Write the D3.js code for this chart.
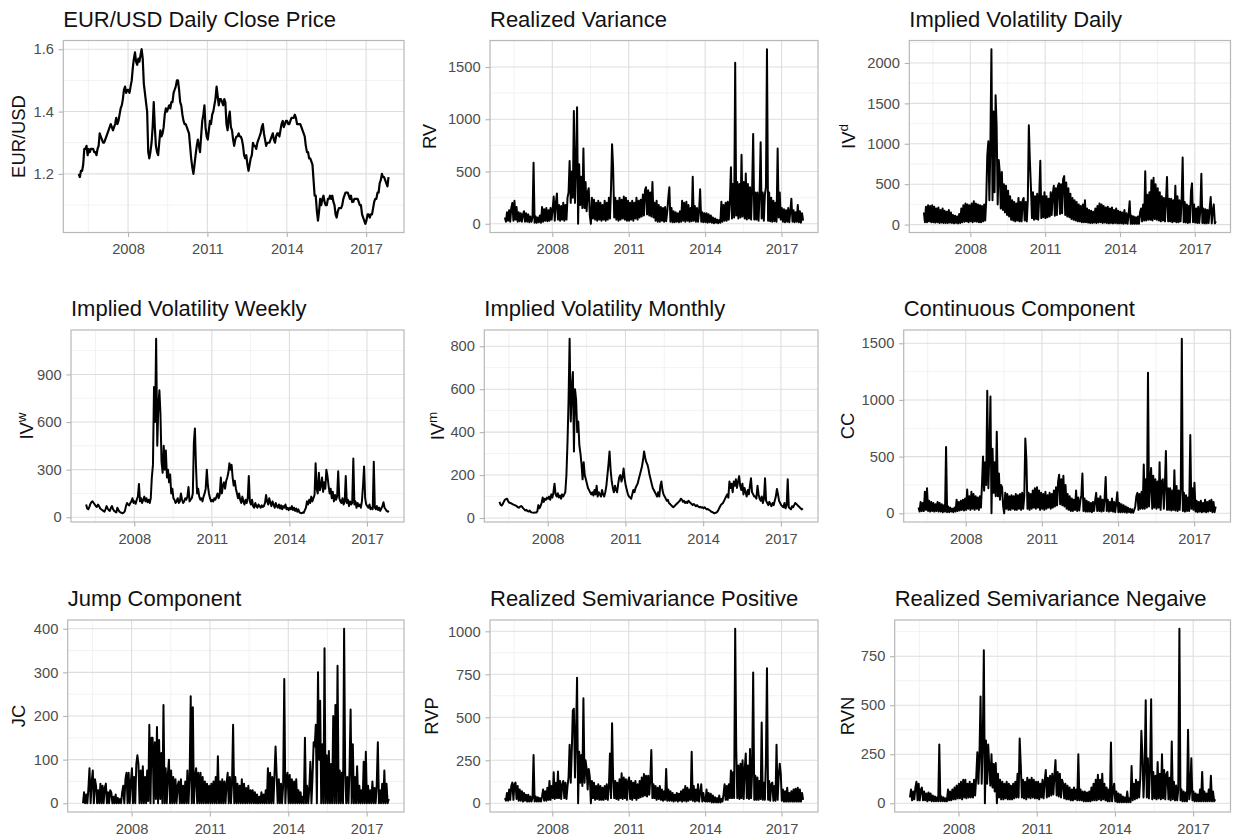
<!DOCTYPE html>
<html>
<head>
<meta charset="utf-8">
<script src="https://cdn.jsdelivr.net/npm/d3@7"></script>
<style>
  body { margin: 0; background: #fff; }
  text { font-family: "Liberation Sans", Arial, Helvetica, sans-serif; }
</style>
</head>
<body>
<div id="grid"></div>
<script>
// Semi-monthly readings, one row per year (2006 starts late Feb, 2017 ends early Nov).
// For the noisy series the readings alternate between the low and high edge of the band.
const fxClose = [
  1.20, 1.19, 1.21, 1.21, 1.23, 1.28, 1.28, 1.29, 1.26, 1.28, 1.27, 1.28, 1.28, 1.28, 1.27, 1.27, 1.26, 1.28, 1.29, 1.33, 1.32,
  1.31, 1.30, 1.30, 1.31, 1.32, 1.33, 1.34, 1.35, 1.36, 1.35, 1.34, 1.35, 1.36, 1.38, 1.36, 1.37, 1.39, 1.41, 1.42, 1.44, 1.47, 1.48, 1.46, 1.47,
  1.47, 1.46, 1.48, 1.50, 1.54, 1.57, 1.59, 1.56, 1.55, 1.57, 1.56, 1.58, 1.60, 1.57, 1.49, 1.46, 1.43, 1.40, 1.27, 1.25, 1.27, 1.30, 1.35, 1.43,
  1.35, 1.29, 1.27, 1.26, 1.30, 1.34, 1.32, 1.33, 1.35, 1.39, 1.41, 1.40, 1.41, 1.42, 1.41, 1.43, 1.43, 1.46, 1.47, 1.48, 1.50, 1.50, 1.47, 1.43,
  1.42, 1.39, 1.37, 1.36, 1.36, 1.35, 1.34, 1.33, 1.29, 1.25, 1.22, 1.20, 1.23, 1.26, 1.29, 1.31, 1.29, 1.27, 1.32, 1.37, 1.39, 1.42, 1.35, 1.32,
  1.31, 1.34, 1.37, 1.36, 1.39, 1.40, 1.42, 1.44, 1.48, 1.45, 1.42, 1.44, 1.44, 1.43, 1.42, 1.44, 1.43, 1.36, 1.34, 1.38, 1.40, 1.35, 1.34, 1.31,
  1.29, 1.31, 1.32, 1.32, 1.33, 1.32, 1.32, 1.31, 1.29, 1.26, 1.25, 1.26, 1.23, 1.21, 1.23, 1.25, 1.26, 1.30, 1.29, 1.29, 1.28, 1.30, 1.31, 1.32,
  1.33, 1.35, 1.36, 1.33, 1.31, 1.29, 1.30, 1.30, 1.30, 1.31, 1.32, 1.33, 1.31, 1.30, 1.32, 1.33, 1.33, 1.32, 1.34, 1.36, 1.37, 1.35, 1.36, 1.37,
  1.37, 1.36, 1.36, 1.37, 1.38, 1.38, 1.38, 1.39, 1.38, 1.36, 1.36, 1.36, 1.36, 1.35, 1.34, 1.33, 1.32, 1.29, 1.27, 1.27, 1.25, 1.25, 1.24, 1.23,
  1.18, 1.13, 1.13, 1.08, 1.05, 1.08, 1.12, 1.10, 1.12, 1.13, 1.11, 1.10, 1.10, 1.12, 1.12, 1.13, 1.12, 1.13, 1.11, 1.10, 1.07, 1.06, 1.08, 1.09,
  1.09, 1.09, 1.10, 1.12, 1.13, 1.14, 1.14, 1.14, 1.13, 1.12, 1.13, 1.11, 1.11, 1.12, 1.12, 1.12, 1.12, 1.11, 1.10, 1.10, 1.07, 1.06, 1.05, 1.04,
  1.05, 1.07, 1.07, 1.06, 1.07, 1.07, 1.09, 1.11, 1.12, 1.12, 1.14, 1.14, 1.17, 1.18, 1.20, 1.19, 1.19, 1.18, 1.17, 1.16, 1.19
];

const rv = [
  60, 20, 110, 30, 130, 20, 150, 200, 30, 220, 40, 160, 20, 110, 25, 100, 20, 90, 120, 20, 100,
  20, 90, 15, 70, 20, 60, 585, 10, 70, 10, 60, 15, 80, 10, 160, 20, 140, 30, 150, 25, 130, 30, 150, 40,
  150, 260, 30, 200, 290, 40, 180, 30, 170, 40, 200, 30, 180, 40, 250, 300, 600, 200, 500, 250, 1080, 200, 550, 1115,
  0, 570, 180, 450, 150, 720, 150, 400, 120, 300, 340, 80, 0, 250, 50, 230, 40, 200, 30, 220, 40, 200, 30, 180,
  40, 220, 30, 200, 40, 250, 50, 340, 760, 540, 60, 250, 40, 220, 30, 250, 40, 230, 50, 260, 40, 250, 30, 220,
  30, 200, 40, 220, 30, 200, 50, 250, 40, 220, 60, 230, 70, 280, 80, 320, 350, 90, 320, 80, 300, 70, 400, 60,
  200, 30, 220, 20, 180, 20, 160, 30, 150, 20, 160, 25, 120, 250, 350, 20, 150, 15, 120, 15, 110, 20, 100, 15,
  120, 20, 220, 30, 200, 20, 210, 30, 180, 20, 150, 25, 450, 30, 170, 20, 150, 20, 120, 330, 20, 110, 15, 100,
  15, 100, 10, 90, 15, 80, 10, 60, 5, 50, 10, 40, 5, 35, 10, 210, 20, 180, 30, 200, 30, 210, 40, 220,
  540, 50, 380, 60, 1540, 80, 400, 50, 380, 60, 660, 70, 400, 50, 480, 40, 380, 50, 350, 40, 330, 860, 40, 300,
  40, 300, 30, 280, 780, 50, 300, 30, 280, 350, 1670, 30, 300, 25, 250, 20, 220, 25, 200, 20, 720, 60, 300, 40,
  150, 20, 140, 15, 130, 20, 150, 15, 120, 240, 20, 130, 15, 110, 20, 180, 15, 120, 10, 100, 30
];

const ivDaily = [
  150, 30, 220, 30, 240, 40, 230, 30, 240, 30, 220, 25, 200, 30, 210, 20, 180, 25, 200, 20, 170,
  20, 160, 20, 180, 25, 150, 20, 120, 15, 110, 20, 100, 15, 130, 20, 200, 30, 240, 35, 260, 40, 250, 30, 240,
  40, 260, 30, 290, 40, 260, 35, 250, 30, 240, 30, 230, 40, 250, 50, 300, 850, 1030, 300, 1000, 2170, 300, 1400, 400,
  1600, 1230, 250, 800, 650, 200, 650, 180, 500, 150, 480, 120, 420, 100, 350, 60, 300, 50, 280, 40, 260, 50, 330, 40,
  280, 40, 300, 330, 50, 280, 40, 300, 1230, 800, 450, 80, 400, 60, 350, 70, 380, 60, 340, 790, 80, 350, 90, 400,
  80, 350, 90, 320, 100, 400, 120, 380, 480, 110, 450, 120, 480, 510, 130, 500, 140, 560, 600, 120, 520, 100, 450, 90,
  380, 70, 330, 60, 300, 50, 280, 40, 250, 40, 230, 30, 250, 30, 300, 30, 200, 25, 180, 20, 170, 20, 160, 25,
  200, 20, 230, 25, 260, 30, 250, 20, 230, 25, 210, 20, 220, 15, 200, 20, 210, 15, 180, 20, 200, 15, 170, 15,
  160, 15, 150, 10, 180, 15, 140, 10, 120, 290, 10, 110, 10, 100, 10, 90, 10, 100, 10, 150, 200, 40, 250, 50,
  660, 50, 370, 60, 400, 60, 550, 50, 580, 70, 500, 60, 450, 50, 400, 40, 350, 50, 330, 40, 300, 590, 40, 320,
  40, 320, 30, 300, 40, 480, 30, 350, 30, 300, 40, 300, 830, 30, 280, 25, 250, 20, 230, 25, 410, 510, 30, 250,
  25, 200, 20, 220, 20, 180, 630, 20, 200, 15, 190, 15, 180, 20, 200, 340, 15, 170, 250, 15, 40
];

const ivWeekly = [
  80, 55, 50, 65, 85, 95, 100, 90, 80, 70, 65, 80, 70, 55, 50, 45, 40, 35, 50, 70, 55,
  45, 40, 60, 70, 50, 40, 35, 30, 60, 45, 35, 30, 28, 25, 30, 40, 70, 90, 80, 75, 90, 100, 120, 90,
  100, 85, 110, 130, 210, 100, 120, 90, 110, 130, 100, 120, 95, 110, 90, 120, 250, 330, 820, 600, 1125, 450, 700, 800,
  650, 350, 280, 450, 300, 420, 250, 300, 220, 270, 150, 180, 120, 110, 90, 100, 120, 90, 100, 150, 110, 90, 100, 120,
  110, 130, 190, 100, 110, 120, 150, 470, 560, 320, 150, 180, 130, 110, 120, 100, 130, 150, 180, 300, 200, 150, 120, 100,
  110, 100, 120, 110, 130, 150, 120, 140, 250, 150, 200, 220, 180, 230, 250, 280, 340, 300, 330, 250, 200, 230, 180, 150,
  120, 150, 110, 90, 130, 100, 80, 110, 90, 120, 260, 100, 80, 110, 70, 60, 90, 70, 60, 80, 70, 60, 75, 65,
  70, 90, 140, 100, 80, 120, 90, 70, 100, 80, 60, 90, 70, 60, 80, 55, 75, 50, 70, 60, 80, 50, 60, 45,
  60, 50, 70, 45, 60, 40, 55, 35, 50, 30, 28, 25, 30, 28, 45, 60, 100, 80, 110, 90, 130, 100, 120, 140,
  340, 180, 150, 280, 170, 200, 250, 160, 220, 180, 300, 260, 200, 150, 180, 120, 160, 100, 140, 110, 130, 290, 120, 100,
  90, 120, 80, 100, 260, 90, 110, 70, 100, 80, 90, 370, 80, 100, 60, 90, 70, 80, 60, 100, 200, 320, 120, 80,
  70, 60, 80, 50, 60, 50, 350, 60, 50, 70, 45, 60, 40, 55, 70, 95, 60, 50, 40, 35, 40
];

const ivMonthly = [
  75, 62, 58, 65, 75, 85, 88, 90, 78, 72, 70, 68, 65, 62, 60, 58, 55, 50, 48, 52, 56,
  52, 45, 40, 35, 38, 32, 30, 35, 28, 26, 25, 24, 26, 25, 30, 60, 45, 55, 70, 95, 75, 90, 85, 95,
  90, 100, 85, 110, 95, 120, 160, 110, 100, 115, 95, 105, 90, 110, 100, 110, 120, 200, 350, 550, 835, 450, 600, 680,
  310, 600, 550, 400, 450, 340, 300, 250, 180, 260, 200, 180, 160, 140, 130, 120, 110, 120, 105, 130, 110, 150, 100, 120,
  110, 100, 130, 110, 100, 120, 150, 200, 250, 310, 220, 170, 140, 120, 150, 130, 120, 160, 190, 200, 170, 190, 230, 180,
  150, 130, 110, 100, 95, 90, 110, 130, 120, 140, 150, 160, 180, 200, 220, 240, 270, 310, 280, 260, 250, 230, 200, 180,
  160, 140, 130, 120, 110, 100, 120, 100, 150, 170, 130, 110, 100, 90, 80, 85, 70, 65, 60, 55, 50, 55, 60, 65,
  70, 75, 80, 90, 85, 75, 80, 70, 75, 70, 80, 75, 70, 65, 60, 65, 60, 55, 60, 55, 50, 52, 48, 50,
  45, 50, 45, 40, 42, 38, 35, 30, 28, 25, 22, 24, 25, 30, 40, 50, 60, 65, 70, 80, 90, 100, 110, 95,
  170, 140, 160, 120, 170, 150, 180, 140, 170, 195, 150, 130, 160, 110, 140, 120, 100, 130, 110, 150, 185, 120, 110, 100,
  100, 90, 150, 110, 90, 80, 100, 70, 90, 185, 80, 70, 60, 75, 65, 55, 70, 60, 80, 100, 135, 110, 80, 70,
  60, 55, 50, 70, 45, 60, 180, 50, 45, 40, 55, 50, 60, 70, 65, 60, 55, 50, 45, 40, 45
];

const cc = [
  50, 15, 100, 20, 90, 20, 190, 30, 220, 20, 110, 15, 100, 20, 90, 15, 80, 20, 100, 15, 90,
  15, 80, 10, 70, 15, 585, 10, 60, 10, 50, 15, 40, 10, 50, 15, 120, 20, 100, 25, 110, 30, 120, 25, 130,
  30, 210, 40, 150, 30, 190, 40, 170, 30, 150, 40, 140, 30, 150, 50, 250, 500, 200, 450, 250, 1080, 220, 550, 1030,
  0, 570, 180, 450, 150, 720, 150, 350, 120, 250, 230, 60, 0, 180, 40, 170, 30, 150, 30, 160, 40, 150, 30, 170,
  30, 160, 40, 170, 30, 180, 40, 150, 660, 480, 40, 180, 30, 170, 40, 200, 50, 220, 40, 230, 50, 200, 30, 180,
  40, 170, 30, 190, 40, 160, 50, 180, 40, 170, 50, 200, 60, 230, 70, 280, 340, 80, 300, 70, 330, 60, 250, 40,
  170, 30, 150, 20, 130, 20, 120, 30, 200, 20, 140, 25, 110, 160, 350, 20, 130, 15, 110, 15, 100, 15, 90, 10,
  100, 20, 110, 180, 20, 130, 20, 150, 15, 120, 20, 140, 320, 20, 120, 15, 100, 20, 130, 15, 100, 10, 90, 185,
  10, 90, 10, 80, 10, 70, 10, 60, 5, 50, 10, 40, 5, 35, 5, 30, 60, 150, 180, 30, 170, 40, 190, 40,
  430, 40, 300, 50, 1240, 60, 250, 400, 40, 330, 50, 300, 40, 280, 50, 450, 30, 280, 300, 40, 250, 550, 30, 220,
  30, 220, 25, 200, 30, 380, 25, 240, 20, 200, 30, 220, 1540, 20, 180, 15, 160, 20, 140, 20, 690, 40, 220, 30,
  270, 15, 110, 10, 100, 15, 110, 10, 90, 15, 120, 10, 100, 15, 110, 20, 120, 10, 100, 10, 60
];

const jc = [
  0, 25, 0, 20, 0, 35, 80, 0, 50, 75, 0, 55, 40, 0, 30, 0, 45, 0, 40, 0, 35,
  45, 0, 25, 0, 30, 25, 0, 15, 0, 20, 0, 12, 0, 10, 0, 25, 40, 0, 55, 70, 0, 70, 0, 50,
  80, 0, 60, 0, 90, 110, 90, 0, 75, 0, 85, 0, 60, 0, 75, 5, 180, 0, 150, 150, 0, 140, 10, 175,
  0, 145, 10, 115, 0, 225, 0, 80, 0, 65, 100, 0, 75, 0, 60, 0, 55, 0, 40, 50, 0, 55, 0, 40,
  0, 50, 0, 75, 0, 60, 245, 0, 220, 0, 60, 80, 0, 70, 0, 70, 0, 60, 0, 50, 0, 45, 0, 40,
  0, 45, 0, 50, 0, 60, 0, 108, 0, 50, 0, 55, 0, 50, 0, 45, 70, 0, 60, 0, 45, 180, 0, 60,
  0, 45, 0, 40, 0, 55, 0, 45, 0, 35, 0, 40, 0, 30, 0, 30, 0, 25, 0, 20, 0, 15, 0, 25,
  0, 20, 0, 30, 0, 80, 0, 70, 0, 60, 0, 65, 130, 65, 0, 55, 0, 45, 0, 40, 285, 0, 60, 70,
  0, 65, 0, 55, 0, 50, 0, 55, 0, 30, 0, 25, 0, 15, 0, 150, 0, 40, 0, 35, 95, 0, 60, 140,
  130, 180, 0, 300, 100, 235, 0, 135, 0, 355, 0, 110, 0, 120, 0, 90, 0, 200, 0, 225, 0, 315, 0, 75,
  0, 70, 0, 400, 70, 0, 60, 0, 80, 215, 0, 135, 0, 60, 0, 85, 0, 40, 0, 30, 0, 95, 0, 118,
  0, 40, 0, 30, 0, 50, 0, 35, 0, 40, 140, 0, 30, 0, 45, 0, 75, 0, 45, 0, 10
];

const rvp = [
  30, 15, 60, 15, 80, 20, 100, 120, 20, 110, 120, 25, 100, 15, 80, 15, 70, 10, 60, 15, 50,
  10, 50, 10, 40, 10, 30, 280, 10, 40, 10, 35, 10, 30, 10, 40, 80, 15, 70, 15, 90, 20, 130, 20, 100,
  30, 180, 25, 120, 30, 185, 30, 130, 25, 110, 130, 30, 120, 25, 100, 150, 340, 120, 300, 540, 550, 150, 400, 730,
  0, 300, 120, 280, 100, 610, 120, 250, 200, 80, 200, 150, 0, 130, 30, 120, 20, 100, 25, 110, 20, 100, 20, 90,
  20, 100, 25, 110, 20, 100, 290, 30, 465, 150, 30, 130, 25, 120, 20, 140, 30, 175, 25, 150, 30, 140, 20, 130,
  150, 25, 130, 20, 120, 30, 130, 20, 110, 30, 130, 35, 150, 40, 170, 45, 160, 40, 160, 50, 140, 310, 30, 110,
  30, 100, 20, 90, 25, 100, 20, 80, 15, 70, 20, 200, 15, 80, 15, 70, 15, 60, 10, 50, 15, 60, 10, 55,
  15, 70, 10, 80, 15, 100, 10, 90, 15, 80, 20, 300, 15, 100, 10, 80, 15, 110, 10, 60, 110, 10, 60, 15,
  10, 80, 10, 60, 10, 55, 5, 45, 5, 35, 5, 30, 5, 45, 5, 25, 10, 50, 110, 20, 100, 20, 110, 30,
  190, 30, 180, 30, 1015, 320, 30, 220, 25, 230, 30, 250, 25, 200, 290, 30, 220, 25, 315, 30, 180, 760, 20, 160,
  20, 150, 20, 130, 25, 470, 20, 120, 20, 250, 785, 20, 130, 15, 110, 120, 15, 100, 15, 340, 20, 160, 230, 170,
  15, 80, 10, 70, 10, 90, 10, 60, 10, 70, 10, 80, 10, 85, 10, 90, 10, 80, 10, 60, 20
];

const rvn = [
  30, 70, 15, 60, 20, 80, 110, 15, 100, 15, 70, 80, 15, 60, 15, 50, 10, 55, 15, 50, 10,
  40, 10, 35, 10, 30, 10, 300, 10, 35, 10, 30, 10, 25, 10, 70, 15, 60, 15, 70, 20, 80, 20, 90, 25,
  100, 25, 110, 20, 120, 30, 120, 25, 100, 30, 110, 30, 100, 30, 120, 40, 130, 260, 100, 250, 545, 100, 300, 780,
  0, 320, 100, 300, 190, 90, 250, 80, 200, 60, 205, 0, 150, 30, 120, 20, 110, 20, 100, 25, 110, 20, 100, 20,
  90, 20, 100, 25, 110, 30, 150, 30, 330, 200, 30, 120, 25, 110, 20, 130, 30, 120, 25, 130, 30, 120, 25, 110,
  25, 110, 20, 100, 30, 120, 25, 110, 170, 30, 130, 35, 140, 40, 150, 45, 140, 220, 40, 160, 35, 150, 30, 120,
  100, 25, 100, 20, 90, 20, 80, 15, 70, 15, 80, 20, 70, 15, 250, 15, 70, 15, 60, 10, 60, 10, 55, 10,
  60, 10, 80, 15, 100, 15, 120, 15, 145, 20, 120, 15, 150, 20, 100, 15, 80, 10, 70, 10, 310, 10, 60, 100,
  10, 60, 5, 50, 5, 45, 5, 35, 5, 30, 5, 60, 5, 25, 5, 190, 15, 100, 20, 120, 25, 110, 30, 130,
  370, 240, 30, 180, 525, 30, 230, 25, 180, 530, 20, 160, 25, 140, 20, 210, 25, 150, 20, 250, 25, 170, 20, 150,
  160, 20, 130, 15, 315, 20, 110, 15, 90, 15, 70, 890, 15, 70, 10, 60, 10, 55, 10, 375, 20, 60, 230, 15,
  60, 10, 50, 10, 45, 10, 70, 10, 160, 10, 60, 10, 50, 10, 70, 10, 140, 10, 60, 10, 20
];

// Tick labels
const xTickYears = [2008, 2011, 2014, 2017];
const fxTicks = [1.2, 1.4, 1.6];
const rvTicks = [0, 500, 1000, 1500];
const ivDailyTicks = [0, 500, 1000, 1500, 2000];
const ivWeeklyTicks = [0, 300, 600, 900];
const ivMonthlyTicks = [0, 200, 400, 600, 800];
const ccTicks = [0, 500, 1000, 1500];
const jcTicks = [0, 100, 200, 300, 400];
const rvpTicks = [0, 250, 500, 750, 1000];
const rvnTicks = [0, 250, 500, 750];

// Sampling of the readings (about every half month)
const startDate = new Date(2006, 1, 20);
const stepDays = 15.22;

// Layout of the 3x3 grid
const width = 1234, height = 837;
const panelRights = [404, 818, 1230.5];
const panelTops = [40.5, 330, 620];
const panelH = 192;

const intFmt = d3.format("d");

const panels = [
  {title: "EUR/USD Daily Close Price", ylab: "EUR/USD", values: fxClose, ticks: fxTicks, fmt: d3.format(".1f"), left: 63.3, titleX: 24.5, lw: 2.2},
  {title: "Realized Variance", ylab: "RV", values: rv, ticks: rvTicks, fmt: intFmt, left: 490, titleX: 436, lw: 2},
  {title: "Implied Volatility Daily", ylab: "IV", sup: "d", values: ivDaily, ticks: ivDailyTicks, fmt: intFmt, left: 909.3, titleX: 855, lw: 2},
  {title: "Implied Volatility Weekly", ylab: "IV", sup: "w", values: ivWeekly, ticks: ivWeeklyTicks, fmt: intFmt, left: 71, titleX: 33, lw: 2},
  {title: "Implied Volatility Monthly", ylab: "IV", sup: "m", values: ivMonthly, ticks: ivMonthlyTicks, fmt: intFmt, left: 484.3, titleX: 444, lw: 2},
  {title: "Continuous Component", ylab: "CC", values: cc, ticks: ccTicks, fmt: intFmt, left: 903.7, titleX: 854, lw: 2},
  {title: "Jump Component", ylab: "JC", values: jc, ticks: jcTicks, fmt: intFmt, left: 67.7, titleX: 25, lw: 2},
  {title: "Realized Semivariance Positive", ylab: "RVP", values: rvp, ticks: rvpTicks, fmt: intFmt, left: 490, titleX: 438, lw: 2},
  {title: "Realized Semivariance Negaive", ylab: "RVN", values: rvn, ticks: rvnTicks, fmt: intFmt, left: 894.7, titleX: 854, lw: 2}
];

// Appending svg
const svg = d3.select("#grid").append("svg")
    .attr("width", width)
    .attr("height", height);

function minorBreaks(major, lo, hi) {
    const step = major[1] - major[0];
    const out = [major[0] - step / 2];
    for (let i = 0; i < major.length - 1; i++) out.push((major[i] + major[i + 1]) / 2);
    out.push(major[major.length - 1] + step / 2);
    return out.filter(v => v >= lo && v <= hi);
}

panels.forEach(function (p, k) {
    const row = Math.floor(k / 3), col = k % 3;
    const left = p.left, right = panelRights[col];
    const top = panelTops[row], bottom = top + panelH;

    const data = p.values.map(function (v, i) {
        return {date: d3.timeDay.offset(startDate, Math.round(i * stepDays)), value: v};
    });

    // Scales with 5% padding on each side
    const t0 = +data[0].date, t1 = +data[data.length - 1].date;
    const tPad = (t1 - t0) * 0.05;
    const xScale = d3.scaleTime()
        .domain([new Date(t0 - tPad), new Date(t1 + tPad)])
        .range([left, right]);

    const vMin = d3.min(p.values), vMax = d3.max(p.values);
    const vPad = (vMax - vMin) * 0.05;
    const yScale = d3.scaleLinear()
        .domain([vMin - vPad, vMax + vPad])
        .range([bottom, top]);

    const g = svg.append("g");

    // Grid
    const xMajor = xTickYears.map(yr => new Date(yr, 0, 1));
    const xMinor = minorBreaks(xMajor.map(Number), t0 - tPad, t1 + tPad);
    const yMinor = minorBreaks(p.ticks, vMin - vPad, vMax + vPad);

    g.selectAll(".xminor").data(xMinor).enter().append("line")
        .attr("x1", d => xScale(new Date(d))).attr("x2", d => xScale(new Date(d)))
        .attr("y1", top).attr("y2", bottom)
        .attr("stroke", "#ececec").attr("stroke-width", 0.7);
    g.selectAll(".yminor").data(yMinor).enter().append("line")
        .attr("x1", left).attr("x2", right)
        .attr("y1", d => yScale(d)).attr("y2", d => yScale(d))
        .attr("stroke", "#ececec").attr("stroke-width", 0.7);
    g.selectAll(".xmajor").data(xMajor).enter().append("line")
        .attr("x1", d => xScale(d)).attr("x2", d => xScale(d))
        .attr("y1", top).attr("y2", bottom)
        .attr("stroke", "#dedede").attr("stroke-width", 1.1);
    g.selectAll(".ymajor").data(p.ticks).enter().append("line")
        .attr("x1", left).attr("x2", right)
        .attr("y1", d => yScale(d)).attr("y2", d => yScale(d))
        .attr("stroke", "#dedede").attr("stroke-width", 1.1);

    // Series line
    g.append("clipPath").attr("id", "clip" + k)
        .append("rect")
        .attr("x", left).attr("y", top)
        .attr("width", right - left).attr("height", panelH);

    g.append("path")
        .datum(data)
        .attr("clip-path", "url(#clip" + k + ")")
        .attr("fill", "none")
        .attr("stroke", "#000")
        .attr("stroke-width", p.lw)
        .attr("stroke-linejoin", "round")
        .attr("d", d3.line().x(d => xScale(d.date)).y(d => yScale(d.value)));

    // Panel border
    g.append("rect")
        .attr("x", left).attr("y", top)
        .attr("width", right - left).attr("height", panelH)
        .attr("fill", "none")
        .attr("stroke", "#b8b8b8")
        .attr("stroke-width", 1.2);

    // Axes
    const yAxis = g.append("g")
        .attr("transform", "translate(" + left + ",0)")
        .call(d3.axisLeft(yScale).tickValues(p.ticks).tickFormat(p.fmt).tickSize(4.6).tickPadding(4.8));
    const xAxis = g.append("g")
        .attr("transform", "translate(0," + bottom + ")")
        .call(d3.axisBottom(xScale).tickValues(xMajor).tickFormat(d3.timeFormat("%Y")).tickSize(4.6).tickPadding(6.8));

    [yAxis, xAxis].forEach(function (ax) {
        ax.select(".domain").remove();
        ax.selectAll("line").attr("stroke", "#b3b3b3").attr("stroke-width", 1.1);
        ax.selectAll("text").attr("fill", "#4d4d4d").style("font-size", "14.7px");
    });

    // Panel title
    g.append("text")
        .attr("x", left)
        .attr("y", top - 14)
        .attr("fill", "#111")
        .style("font-size", "22px")
        .text(p.title);

    // Y axis title
    const yt = g.append("text")
        .attr("transform", "translate(" + p.titleX + "," + (top + panelH / 2) + ") rotate(-90)")
        .attr("text-anchor", "middle")
        .attr("fill", "#111")
        .style("font-size", "18.4px");
    yt.append("tspan").text(p.ylab);
    if (p.sup) {
        yt.append("tspan")
            .attr("dy", -6.8)
            .style("font-size", "13.5px")
            .text(p.sup);
    }
});
</script>
</body>
</html>
